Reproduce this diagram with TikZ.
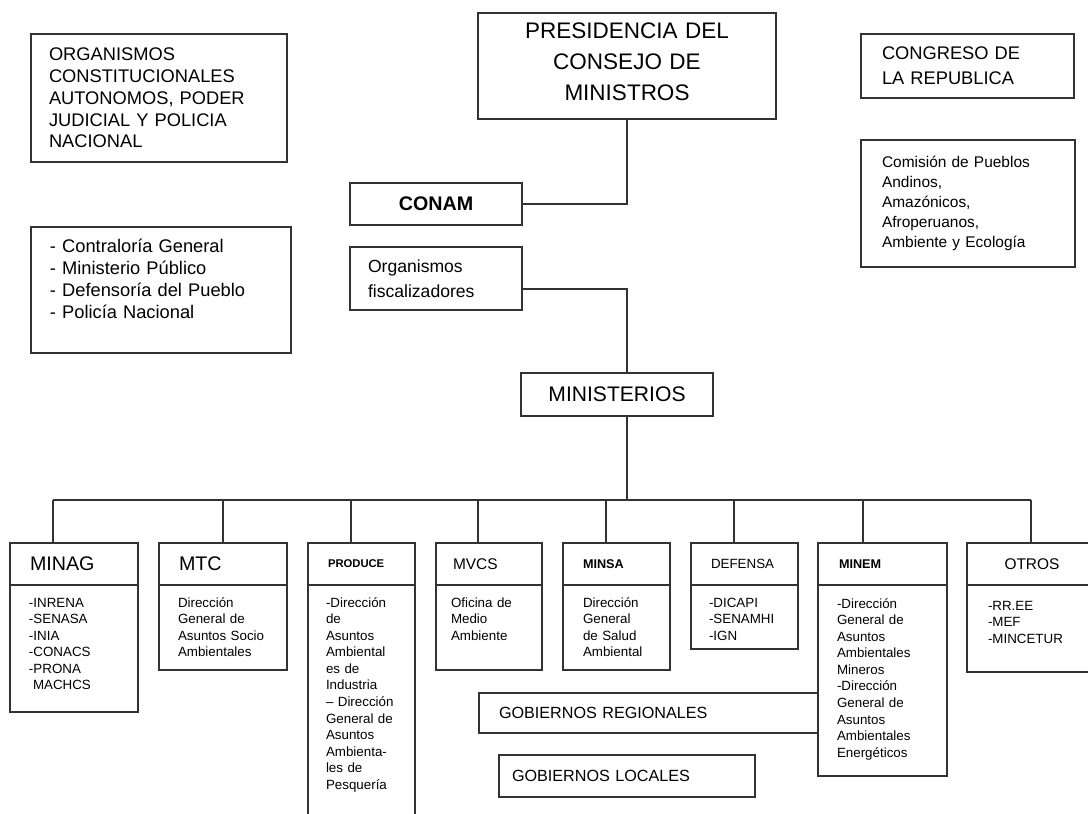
\documentclass[tikz,border=0pt]{standalone}
\usepackage{fontspec}
\setmainfont{Liberation Sans}
\usepackage{tikz}
\usetikzlibrary{positioning}
\newdimen\pxu
\pxu=0.025cm
\tikzset{caja/.style n args={3}{
			  rectangle,
			  draw            = black!80,
			  line width      = 0.9pt,
			  anchor          = north west,
			  outer sep       = 0pt,
			  inner ysep      = 0pt,
			  inner xsep      = #3*\pxu,
			  minimum width   = #1*\pxu,
			  minimum height  = #2*\pxu,
			  text width      = {(#1-2*#3)*\pxu},
			  align           = left
			}}
\tikzset{cuerpo/.style n args={4}{
			  caja            = {#1}{#2}{#3},
			  text height     = #4*\pxu,
			  text depth      = {(#2-#4)*\pxu}
			}}
\tikzset{letra/.style 2 args={
			  font            = \fontsize{#1}{#2}\selectfont
			}}
\tikzset{negrita/.style 2 args={
			  font            = \fontsize{#1}{#2}\selectfont\bfseries
			}}
\tikzset{chica/.style={
			  letra           = {9.5}{11.8}
			}}
\tikzset{linea/.style={
			  draw            = black!80,
			  line width      = 0.9pt
			}}
\begin{document}
\begin{tikzpicture}[x=0.025cm, y=-0.025cm, node distance=0pt]
    \useasboundingbox (0,0) rectangle (1088,814);

    \node (organismos)  [caja={256}{128}{18}, letra={13}{15.5}] at (31,34)
          {ORGANISMOS\\CONSTITUCIONALES\\AUTONOMOS, PODER\\JUDICIAL Y POLICIA\\NACIONAL};
    \node (entes)       [cuerpo={260}{126}{19}{26}, letra={13}{15.6}] at (31,227)
          {- Contraloría General\\- Ministerio Público\\- Defensoría del Pueblo\\- Policía Nacional};
    \node (presidencia) [cuerpo={298}{106}{10}{26}, align=center, letra={16}{22}] at (478,13)
          {PRESIDENCIA DEL\\CONSEJO DE\\MINISTROS};
    \node (conam)       [caja={172}{42}{10}, align=center, negrita={14}{16}] at (350,183) {CONAM};
    \node (fiscal)      [caja={172}{63}{18}, letra={12.5}{17.8}] at (350,247) {Organismos\\fiscalizadores};
    \node (congreso)    [caja={213}{64}{21}, letra={13}{17.8}] at (861,34) {CONGRESO DE\\LA REPUBLICA};
    \node (comision)    [caja={214}{127}{21}, letra={11}{14.2}] at (861,140)
          {Comisión de Pueblos\\Andinos,\\Amazónicos,\\Afroperuanos,\\Ambiente y Ecología};
    \node (ministerios) [caja={192}{43}{10}, align=center, letra={15}{17}] at (521,373) {MINISTERIOS};

    \node (minag)    [caja={128}{42}{20}, letra={14}{16}] at (10,543)  {MINAG};
    \node (mtc)      [caja={128}{42}{20}, letra={14}{16}] at (159,543) {MTC};
    \node (produce)  [caja={107}{42}{20}, negrita={8}{10}] at (308,543) {PRODUCE};
    \node (mvcs)     [caja={106}{42}{17}, letra={11}{13}] at (436,543) {MVCS};
    \node (minsa)    [caja={107}{42}{20}, negrita={9}{11}] at (563,543) {MINSA};
    \node (defensa)  [caja={107}{42}{20}, letra={9.5}{11}] at (691,543) {DEFENSA};
    \node (minem)    [caja={129}{42}{21}, negrita={9}{11}] at (818,543) {MINEM};
    \node (otros)    [caja={130}{42}{20}, align=center, letra={11}{13}] at (967,543) {OTROS};

    \node (minagb)   [cuerpo={128}{127}{19}{22}, chica, below=of minag]
          {-INRENA\\-SENASA\\-INIA\\-CONACS\\-PRONA\\\hspace*{0.3em}MACHCS};
    \node (mtcb)     [cuerpo={128}{85}{19}{22}, chica, below=of mtc]
          {Dirección\\General~de\\Asuntos~Socio\\Ambientales};
    \node (produceb) [cuerpo={107}{270}{18}{22}, chica, below=of produce]
          {-Dirección\\de\\Asuntos\\Ambiental\\es~de\\Industria\\--~Dirección\\General~de\\Asuntos\\Ambienta-\\les~de\\Pesquería};
    \node (mvcsb)    [cuerpo={106}{85}{15}{22}, chica, below=of mvcs]
          {Oficina~de\\Medio\\Ambiente};
    \node (minsab)   [cuerpo={107}{85}{20}{22}, chica, below=of minsa]
          {Dirección\\General\\de~Salud\\Ambiental};
    \node (defensab) [cuerpo={107}{64}{18}{22}, chica, below=of defensa]
          {-DICAPI\\-SENAMHI\\-IGN};
    \node (minemb)   [cuerpo={129}{191}{19}{23}, chica, below=of minem]
          {-Dirección\\General~de\\Asuntos\\Ambientales\\Mineros\\-Dirección\\General~de\\Asuntos\\Ambientales\\Energéticos};
    \node (otrosb)   [cuerpo={130}{87}{21}{25}, chica, below=of otros]
          {-RR.EE\\-MEF\\-MINCETUR};

    \node (gobreg)   [caja={339}{40}{20}, letra={11.5}{13}] at (479,693) {GOBIERNOS REGIONALES};
    \node (gobloc)   [caja={256}{42}{13}, letra={11.5}{13}] at (499,755) {GOBIERNOS LOCALES};

    \coordinate (bus) at (627,500);
    \foreach \x/\n in {53/minag, 223/mtc, 351/produce, 478/mvcs, 606/minsa, 734/defensa, 863/minem, 1031/otros}
    {
      \coordinate (t-\n) at (\x,500);
      \draw [linea] (t-\n) -- (t-\n |- \n.north);
    }

    \draw [linea] (presidencia) |- (conam);
    \draw [linea] ([yshift=-7.5pt]fiscal.east) -| (ministerios.north -| bus);
    \draw [linea] (ministerios.south -| bus) -- (bus);
    \draw [linea] (t-minag) -- (t-otros);

\end{tikzpicture}
\end{document}
